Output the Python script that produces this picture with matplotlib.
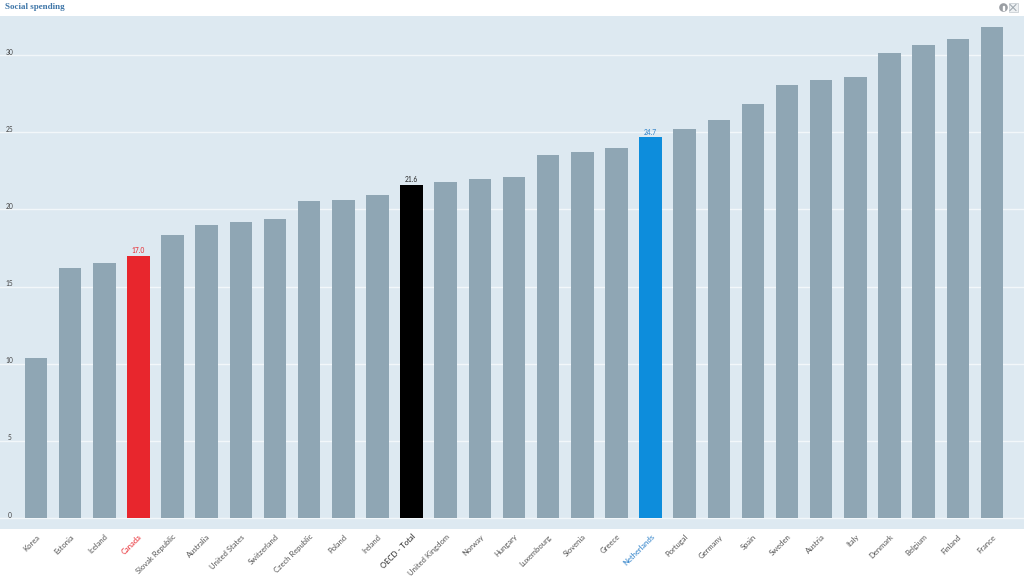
#!/usr/bin/env python3
"""Social spending bar chart, sorted low to high, with three highlighted countries."""

import matplotlib

matplotlib.use("Agg")
import matplotlib.pyplot as plt
from matplotlib.patches import Circle, Rectangle

COUNTRIES = [
    "Korea", "Estonia", "Iceland", "Canada", "Slovak Republic", "Australia",
    "United States", "Switzerland", "Czech Republic", "Poland", "Ireland",
    "OECD - Total", "United Kingdom", "Norway", "Hungary", "Luxembourg",
    "Slovenia", "Greece", "Netherlands", "Portugal", "Germany", "Spain",
    "Sweden", "Austria", "Italy", "Denmark", "Belgium", "Finland", "France",
]
VALUES = [
    10.4, 16.2, 16.5, 17.0, 18.35, 19.0, 19.2, 19.4, 20.55, 20.6, 20.95,
    21.6, 21.75, 22.0, 22.1, 23.55, 23.7, 24.0, 24.7, 25.2, 25.8, 26.8,
    28.05, 28.4, 28.6, 30.15, 30.65, 31.05, 31.8,
]
Y_TICKS = [0, 5, 10, 15, 20, 25, 30]

BAR_COLOR = "#8fa6b4"
BG_COLOR = "#dde9f1"
HIGHLIGHTS = {"Canada": "#e8262d", "OECD - Total": "#000000", "Netherlands": "#0d8ddc"}
LABEL_COLORS = {"Canada": "#e8262d", "OECD - Total": "#222222", "Netherlands": "#2a7fc8"}

W, H = 1024, 576


def main():
    plt.rcParams["font.family"] = ["Lato", "DejaVu Sans"]
    fig = plt.figure(figsize=(W / 100, H / 100), dpi=100, facecolor="white")

    # plot band runs the full width, from y=16 to y=529 px
    ax = fig.add_axes([0, 1 - 529 / H, 1, 513 / H], facecolor=BG_COLOR)
    step = 34.14
    ax.set_xlim(-36 / step, (W - 36) / step)
    ax.set_ylim(-11 / 15.43, 502 / 15.43)

    colors = [HIGHLIGHTS.get(c, BAR_COLOR) for c in COUNTRIES]
    xs = list(range(len(COUNTRIES)))
    ax.bar(xs, VALUES, width=0.66, color=colors, zorder=3)

    ax.set_yticks(Y_TICKS)
    ax.set_yticklabels([])
    ax.tick_params(length=0)
    ax.grid(axis="y", color="#f2f7fa", linewidth=1, zorder=1)
    ax.set_axisbelow(True)
    for spine in ax.spines.values():
        spine.set_visible(False)

    for t in Y_TICKS:
        ax.annotate(str(t), (0, t), xycoords=("axes fraction", "data"),
                    xytext=(9.5, 3), textcoords="offset pixels",
                    fontsize=4.8, color="#444444", ha="center", va="center", zorder=5)

    ax.set_xticks(xs)
    ax.set_xticklabels(COUNTRIES, rotation=45, ha="right", rotation_mode="anchor", fontsize=5.5)
    ax.tick_params(axis="x", pad=3, colors="#555555")
    for lab, name in zip(ax.get_xticklabels(), COUNTRIES):
        lab.set_color(LABEL_COLORS.get(name, "#555555"))

    # value labels for the highlighted bars only
    for i, name in enumerate(COUNTRIES):
        if name in HIGHLIGHTS:
            ax.text(i, VALUES[i] + 0.08, f"{VALUES[i]:.1f}", ha="center", va="bottom",
                    fontsize=4.8, color=LABEL_COLORS[name], zorder=5)

    fig.text(5 / W, 1 - 7 / H, "Social spending", family=["Liberation Serif", "DejaVu Serif"],
             fontsize=6.5, fontweight="bold", color="#3f76a8", ha="left", va="center")

    # info and expand buttons, top right
    overlay = fig.add_axes([0, 0, 1, 1], facecolor="none")
    overlay.set_xlim(0, W)
    overlay.set_ylim(H, 0)
    overlay.axis("off")
    overlay.add_patch(Circle((1003.5, 7.5), 3.6, color="#9a9ea3"))
    overlay.add_patch(Rectangle((1003, 6), 1, 4, color="white"))
    overlay.add_patch(Rectangle((1008.5, 3), 9, 9, fc="#eef1f3", ec="#c2c8cd", lw=0.5))
    overlay.plot([1010, 1016], [4.5, 10.5], color="#9aa3ab", lw=0.7)
    overlay.plot([1010, 1016], [10.5, 4.5], color="#9aa3ab", lw=0.7)

    fig.savefig("out.png", dpi=100)


if __name__ == "__main__":
    main()
